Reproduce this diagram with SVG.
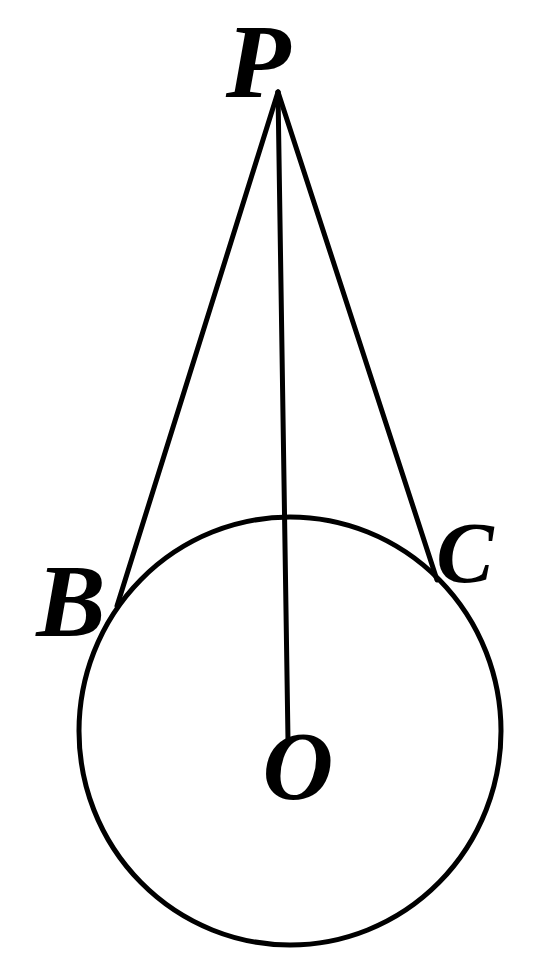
<svg xmlns="http://www.w3.org/2000/svg" width="559" height="975" viewBox="0 0 559 975">
<style>
.ln{stroke:#000;stroke-width:5;fill:none;stroke-linecap:round}
.lb{font-family:"Liberation Serif",serif;font-weight:bold;font-style:italic;fill:#000;text-anchor:middle}
</style>
<rect width="559" height="975" fill="#fff"/>
<g id="connectors">
<line class="ln" x1="278" y1="92" x2="117" y2="606"/>
<line class="ln" x1="278" y1="92" x2="437" y2="580"/>
<line class="ln" x1="278" y1="92" x2="288" y2="740"/>
</g>
<g id="circle"><ellipse class="ln" cx="290" cy="731" rx="211" ry="214"/></g>
<g id="P"><text class="lb" x="258" y="97" font-size="106">P</text></g>
<g id="B"><text class="lb" x="71" y="636" font-size="104">B</text></g>
<g id="C"><text class="lb" x="465" y="582" font-size="86">C</text></g>
<g id="O"><text class="lb" x="298" y="799" font-size="98">O</text></g>
</svg>
